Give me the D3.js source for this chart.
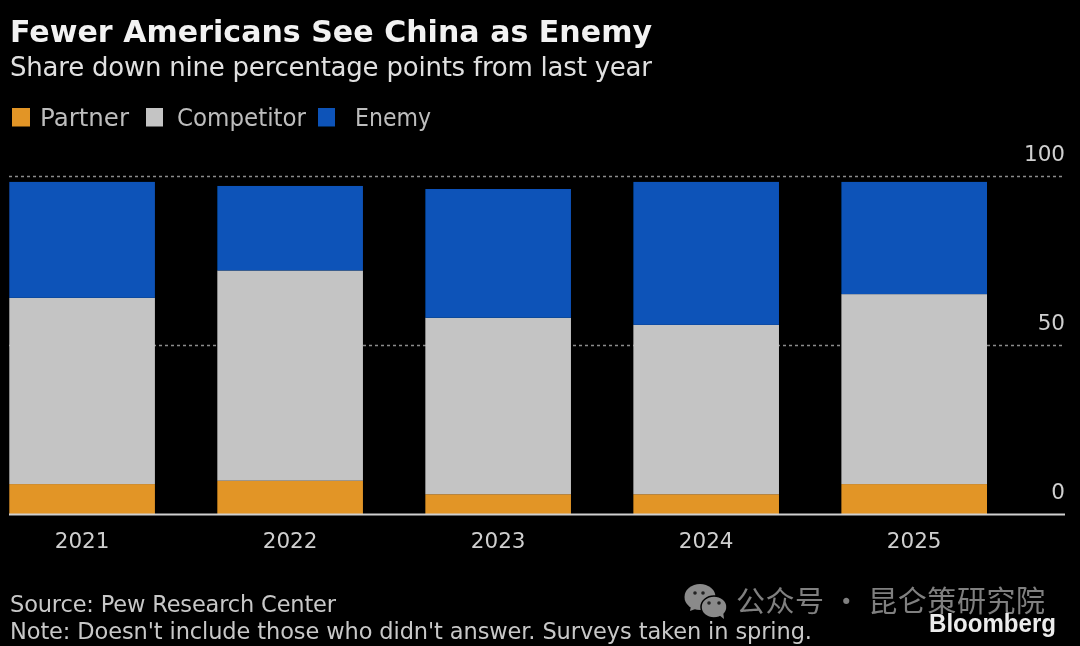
<!DOCTYPE html>
<html><head><meta charset="utf-8">
<script src="https://cdn.jsdelivr.net/npm/d3@7"></script>
<style>html,body{margin:0;padding:0;background:#000;overflow:hidden}svg{display:block}
text{font-family:"DejaVu Sans",sans-serif}</style></head><body>
<script>
const years=["2021","2022","2023","2024","2025"];
const partner=[9,10,6,6,9];
const competitor=[55.1,62.2,52.2,50.1,56.2];
const enemy=[34.3,25,38.1,42.3,33.2];
const yTicks=[0,50,100];
const seriesNames=["Partner","Competitor","Enemy"];
const seriesColors=["#e29527","#c4c4c4","#0a52b8"];
const seriesValues=[partner,competitor,enemy];

const W=1080,H=646;
const svg=d3.select("body").append("svg").attr("width",W).attr("height",H);
svg.append("defs").append("filter").attr("id","soft").append("feGaussianBlur").attr("stdDeviation",0.5);
svg.append("rect").attr("width",W).attr("height",H).attr("fill","#000");
const root=svg.append("g").attr("filter","url(#soft)");

const x=d3.scaleBand().domain(years).range([9.3,987]).paddingInner(0.3).paddingOuter(0);
const y=d3.scaleLinear().domain([0,100]).range([514.5,176.5]);

// gridlines
root.append("g").selectAll("line").data(yTicks.filter(d=>d>0)).join("line")
 .attr("x1",9).attr("x2",1063).attr("y1",d=>y(d)).attr("y2",d=>y(d))
 .attr("stroke","#8c8c8c").attr("stroke-width",1.5).attr("stroke-dasharray","3 3");

// stacked bars
const rows=years.map((yr,i)=>({year:yr,Partner:partner[i],Competitor:competitor[i],Enemy:enemy[i]}));
const stack=d3.stack().keys(seriesNames)(rows);
root.append("g").selectAll("g").data(stack).join("g").attr("fill",(d,i)=>seriesColors[i])
 .selectAll("rect").data(d=>d).join("rect")
 .attr("x",d=>x(d.data.year)).attr("width",x.bandwidth())
 .attr("y",d=>y(d[1])).attr("height",d=>y(d[0])-y(d[1]));

// baseline
root.append("line").attr("x1",9).attr("x2",1065).attr("y1",y(0)).attr("y2",y(0))
 .attr("stroke","#d0d0d0").attr("stroke-width",2);

// axis labels
root.append("g").selectAll("text").data(years).join("text")
 .attr("x",d=>x(d)+x.bandwidth()/2).attr("y",547.5).attr("text-anchor","middle")
 .attr("font-size",21.5).attr("fill","#cfcfcf").text(d=>d);
root.append("g").selectAll("text").data(yTicks).join("text")
 .attr("x",1065).attr("y",d=>y(d)-16).attr("text-anchor","end")
 .attr("font-size",21.5).attr("fill","#cfcfcf").text(d=>d);

// title block
root.append("text").attr("x",10).attr("y",42).attr("font-size",30).attr("font-weight",700)
 .attr("fill","#f2f2f2").attr("textLength",642).text("Fewer Americans See China as Enemy");
root.append("text").attr("x",10).attr("y",76).attr("font-size",26)
 .attr("fill","#e0e0e0").attr("textLength",642).text("Share down nine percentage points from last year");

// legend
const legendX=[12,146,318], legendW=[18,17,17], legendLabelX=[40,177,355], legendLabelW=[89,129,76];
seriesNames.forEach((n,i)=>{
 root.append("rect").attr("x",legendX[i]).attr("y",108).attr("width",legendW[i]).attr("height",18.5).attr("fill",seriesColors[i]);
 root.append("text").attr("x",legendLabelX[i]).attr("y",126).attr("font-size",24).attr("fill","#bdbdbd")
  .attr("textLength",legendLabelW[i]).attr("lengthAdjust","spacingAndGlyphs").text(n);
});

// footer
root.append("text").attr("x",10).attr("y",612).attr("font-size",22.5).attr("fill","#c8c8c8")
 .attr("textLength",326).text("Source: Pew Research Center");
root.append("text").attr("x",10).attr("y",638.5).attr("font-size",22.5).attr("fill","#c8c8c8")
 .attr("textLength",802).text("Note: Doesn't include those who didn't answer. Surveys taken in spring.");

// watermark
const wm=root.append("g").attr("fill","#8a8a8a");
wm.append("ellipse").attr("cx",700).attr("cy",597).attr("rx",15.5).attr("ry",13);
wm.append("path").attr("d","M691 606 L690 611 L698 608 Z");
wm.append("ellipse").attr("cx",714).attr("cy",607).attr("rx",13).attr("ry",11).attr("stroke","#000").attr("stroke-width",1.5);
wm.append("path").attr("d","M719 615 L724 619 L723 611 Z");
[[695,593],[703,593],[709,603],[719,603]].forEach(p=>
 root.append("circle").attr("cx",p[0]).attr("cy",p[1]).attr("r",1.8).attr("fill","#222"));
root.append("text").attr("x",736).attr("y",612).attr("font-size",29).attr("fill","#808080")
 .style("font-family","'Noto Sans CJK SC'").attr("textLength",309).text("公众号 · 昆仑策研究院");
root.append("text").attr("x",929).attr("y",632).attr("font-size",25).attr("font-weight",700)
 .attr("fill","#ececec").style("font-family","'Liberation Sans'").attr("textLength",127).attr("lengthAdjust","spacingAndGlyphs").text("Bloomberg");
</script></body></html>
